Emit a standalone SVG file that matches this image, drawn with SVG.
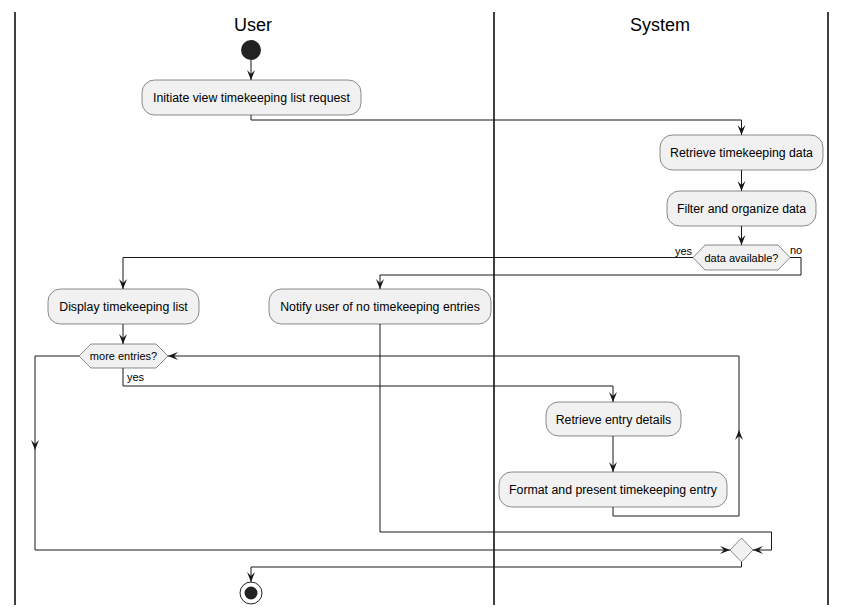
<svg xmlns="http://www.w3.org/2000/svg" width="845" height="615" viewBox="0 0 845 615">
<style>
.lane{stroke:#000;stroke-width:1.5;fill:none}
.title{font-family:"Liberation Sans",Arial,sans-serif;font-size:18px;fill:#000;text-anchor:middle}
.act{fill:#F1F1F1;stroke:#181818;stroke-width:0.5}
.t{font-family:"Liberation Sans",Arial,sans-serif;font-size:12.3px;fill:#000;text-anchor:middle}
.s{font-family:"Liberation Sans",Arial,sans-serif;font-size:11px;fill:#000}
.c{fill:none;stroke:#181818;stroke-width:1;marker-end:url(#ah)}
</style>
<defs>
<marker id="ah" markerUnits="userSpaceOnUse" viewBox="0 0 10 8" refX="10" refY="4" markerWidth="10" markerHeight="8" orient="auto">
<path d="M0,0 L10,4 L0,8 L4,4 Z" fill="#181818"/>
</marker>
</defs>
<g id="lanes">
<line class="lane" x1="15" y1="12" x2="15" y2="605"/>
<line class="lane" x1="494" y1="12" x2="494" y2="605"/>
<line class="lane" x1="828" y1="12" x2="828" y2="605"/>
<text class="title" x="253" y="31">User</text>
<text class="title" x="660" y="31">System</text>
</g>
<g id="connectors">
<path class="c" d="M251,60 L251,80"/>
<path class="c" d="M251,115 L251,120 L741.5,120 L741.5,135"/>
<path class="c" d="M741.5,170 L741.5,191"/>
<path class="c" d="M741.5,226 L741.5,245"/>
<path class="c" d="M693,257.5 L123,257.5 L123,289"/>
<path class="c" d="M790,257.5 L801,257.5 L801,275 L380,275 L380,289"/>
<path class="c" d="M123,324 L123,344"/>
<path class="c" d="M123,368 L123,386 L613,386 L613,402"/>
<path class="c" d="M613,436 L613,472"/>
<path class="c" d="M613,507 L613,516 L739,516 L739,430"/>
<path class="c" d="M739,430 L739,356 L168,356"/>
<path class="c" d="M79,356 L35,356 L35,450"/>
<path class="c" d="M35,450 L35,550 L730,550"/>
<path class="c" d="M380,324 L380,532 L771.5,532 L771.5,550 L753,550"/>
<path class="c" d="M741.5,562 L741.5,567 L251,567 L251,582"/>
</g>
<g id="start"><circle cx="251" cy="50" r="10" fill="#222"/></g>
<g id="a1"><rect class="act" x="142" y="80" width="219" height="35" rx="12.5"/><text class="t" x="251.5" y="102">Initiate view timekeeping list request</text></g>
<g id="a2"><rect class="act" x="660" y="135" width="163" height="35" rx="12.5"/><text class="t" x="741.5" y="157">Retrieve timekeeping data</text></g>
<g id="a3"><rect class="act" x="667" y="191" width="149" height="35" rx="12.5"/><text class="t" x="741.5" y="213">Filter and organize data</text></g>
<g id="d1"><polygon class="act" points="693,257.5 705,245 778,245 790,257.5 778,270 705,270"/><text class="s" x="741.5" y="261.5" text-anchor="middle">data available?</text>
<text class="s" x="692" y="255" text-anchor="end">yes</text><text class="s" x="790" y="254">no</text></g>
<g id="a4"><rect class="act" x="48" y="289" width="151" height="35" rx="12.5"/><text class="t" x="123.5" y="311">Display timekeeping list</text></g>
<g id="a5"><rect class="act" x="269" y="289" width="222" height="35" rx="12.5"/><text class="t" x="380" y="311">Notify user of no timekeeping entries</text></g>
<g id="d2"><polygon class="act" points="79,356 91,344 156,344 168,356 156,368 91,368"/><text class="s" x="123.5" y="360" text-anchor="middle">more entries?</text>
<text class="s" x="127" y="381">yes</text></g>
<g id="a6"><rect class="act" x="546" y="402" width="135" height="34" rx="12.5"/><text class="t" x="613.5" y="423.5">Retrieve entry details</text></g>
<g id="a7"><rect class="act" x="499" y="472" width="228" height="35" rx="12.5"/><text class="t" x="613" y="494">Format and present timekeeping entry</text></g>
<g id="merge"><polygon class="act" points="730,550 741.5,538 753,550 741.5,562"/></g>
<g id="end"><circle cx="251" cy="593" r="11" fill="none" stroke="#222" stroke-width="1"/><circle cx="251" cy="593" r="6.5" fill="#222"/></g>
</svg>
